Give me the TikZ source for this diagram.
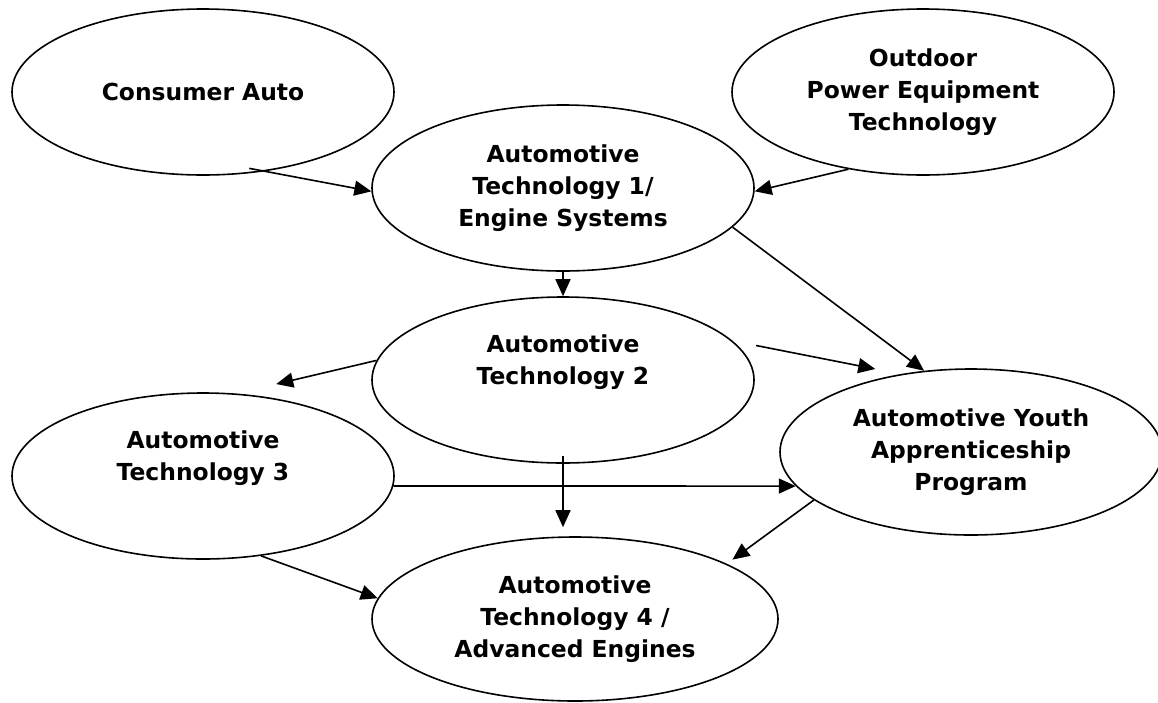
\documentclass[tikz,border=0pt]{standalone}
\usepackage{fontspec}
\setmainfont{DejaVu Sans}
\usetikzlibrary{shapes.geometric,arrows.meta}

\begin{document}
\begin{tikzpicture}[x=1pt,y=-1pt,line width=1.6pt,
    oval/.style={ellipse,draw,inner sep=0pt,minimum width=382pt,minimum height=166pt,
      align=center,font=\fontsize{23.4}{32}\selectfont\bfseries},
    arr/.style={-{Triangle[length=17pt,width=15pt]}}]

  \path[use as bounding box,fill=white] (0,0) rectangle (1158,702);

  \node[oval] (ca) at (203,92) {Consumer Auto};
  \node[oval] (op) at (923,92) {Outdoor\\Power Equipment\\Technology};
  \node[oval] (t1) at (563,188) {Automotive\\Technology 1/\\Engine Systems};
  \node[oval] (t2) at (563,380) {Automotive\\Technology 2\\\strut};
  \node[oval] (t3) at (203,476) {Automotive\\Technology 3\\\strut};
  \node[oval] (yp) at (971,452) {Automotive Youth\\Apprenticeship\\Program};
  \node[oval,minimum width=406pt,minimum height=164pt] (t4) at (575,619)
    {Automotive\\Technology 4 /\\Advanced Engines};

  \path (ca.-52) edge[arr,shorten <=-16pt] (t1.181.5);
  \path (op.226) edge[arr] (t1.-1);
  \path (t1.south) edge[arr] (t2.north);
  \path (t1.-13) edge[arr] (yp.120);
  \path (t2.13.4) edge[arr,shorten <=24pt,shorten >=26pt] (yp.132.7);
  \path (t2.174) edge[arr,shorten >=41pt] (t3.68);
  \path (t2.south) edge[arr,shorten <=-8pt,shorten >=9pt] (t2.south |- t4.north);
  \path (t3.-3.5) edge[arr] (yp.191.7);
  \path (yp.197) edge[arr,shorten >=7pt] (t4.20.7);
  \path (t3.-54) edge[arr] (t4.174.4);

\end{tikzpicture}
\end{document}
